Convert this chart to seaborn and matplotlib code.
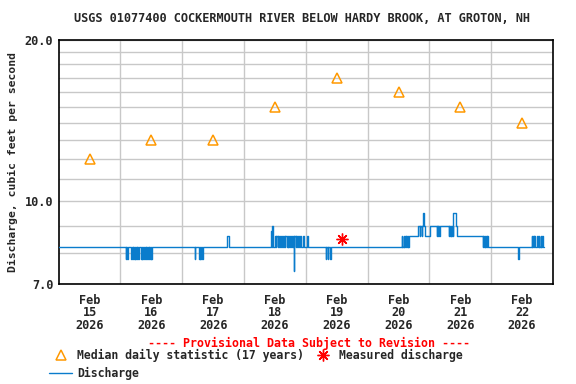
import matplotlib
matplotlib.use("Agg")
import matplotlib.pyplot as plt
import matplotlib.ticker as mticker
import seaborn as sns
import pandas as pd

# ---------------- data ----------------
title = "USGS 01077400 COCKERMOUTH RIVER BELOW HARDY BROOK, AT GROTON, NH"
day_labels = ["Feb\n15\n2026", "Feb\n16\n2026", "Feb\n17\n2026", "Feb\n18\n2026",
              "Feb\n19\n2026", "Feb\n20\n2026", "Feb\n21\n2026", "Feb\n22\n2026"]

# median daily statistic (17 years), plotted at noon of each day (hours since Feb 15 00:00)
median_hours = [12, 36, 60, 84, 108, 132, 156, 180]
median_cfs = [12, 13, 13, 15, 17, 16, 15, 14]

# measured discharge
measured_hours = [110.1]
measured_cfs = [8.5]

# discharge record as step change points (hours since Feb 15 00:00, cfs)
step_hours = [
    0.0,
    26.0, 26.25, 26.5, 26.75,
    28.25, 28.5, 28.75, 29.0, 29.25, 29.5, 29.75, 30.0, 30.25, 30.5, 30.75, 31.25,
    32.0, 32.25, 32.5, 32.75, 33.0, 33.5, 33.75, 34.0, 34.25, 34.5, 35.0, 35.25, 35.5, 35.75, 36.0, 36.25,
    52.75, 53.0, 54.5, 54.75, 55.0, 55.25, 55.5, 56.0,
    65.25, 65.5, 66.0,
    82.5, 82.75, 83.0, 83.25,
    84.0, 84.25, 84.5, 85.0, 85.25, 85.75, 86.0, 86.5, 86.75, 87.0, 87.5, 87.75, 88.0, 88.5,
    89.0, 89.25, 89.5, 90.0, 90.25, 90.75, 91.0, 91.25, 91.5, 92.0, 92.25, 92.75, 93.0, 93.5,
    93.75, 94.25, 95.0, 95.25, 96.5, 96.75,
    103.75, 104.0, 104.5, 104.75, 105.5, 105.75,
    133.25, 133.5, 134.0, 134.25, 134.5, 134.75, 135.0, 135.25, 135.5, 135.75, 136.0,
    139.75, 140.25, 140.5, 141.0, 141.25, 141.5, 141.75, 142.25,
    144.25, 146.75, 147.0, 147.25, 147.5, 147.75, 148.0,
    151.5, 151.75, 152.0, 152.25, 152.5, 152.75, 153.0, 153.25, 154.5, 154.75,
    164.75, 165.0, 165.25, 165.5, 165.75, 166.0, 166.25, 166.5, 166.75,
    178.5, 178.75,
    183.75, 184.0, 184.25, 184.5, 184.75, 185.0, 185.75, 186.0, 186.5, 186.75, 187.25, 187.5,
    187.75, 188.0, 188.5,
]
step_cfs = [
    8.2,
    7.8, 8.2, 7.8, 8.2,
    7.8, 8.2, 7.8, 8.2, 7.8, 8.2, 7.8, 8.2, 7.8, 8.2, 7.8, 8.2,
    7.8, 8.2, 7.8, 8.2, 7.8, 8.2, 7.8, 8.2, 7.8, 8.2, 7.8, 8.2, 7.8, 8.2, 7.8, 8.2,
    7.8, 8.2, 7.8, 8.2, 7.8, 8.2, 7.8, 8.2,
    8.4, 8.6, 8.2,
    8.8, 8.2, 9.0, 8.2,
    8.6, 8.2, 8.6, 8.2, 8.6, 8.2, 8.6, 8.2, 8.6, 8.2, 8.6, 8.2, 8.6, 8.2,
    8.6, 8.2, 8.6, 8.2, 8.6, 8.2, 8.6, 7.4, 8.6, 8.2, 8.6, 8.2, 8.6, 8.2,
    8.6, 8.2, 8.6, 8.2, 8.6, 8.2,
    7.8, 8.2, 7.8, 8.2, 7.8, 8.2,
    8.6, 8.2, 8.6, 8.2, 8.6, 8.2, 8.6, 8.2, 8.6, 8.2, 8.6,
    9.0, 8.6, 9.0, 8.6, 9.0, 9.5, 9.0, 8.6,
    9.0, 8.6, 9.0, 8.6, 9.0, 8.6, 9.0,
    8.6, 9.0, 8.6, 9.0, 8.6, 9.0, 8.6, 9.5, 9.0, 8.6,
    8.2, 8.6, 8.2, 8.6, 8.2, 8.6, 8.2, 8.6, 8.2,
    7.8, 8.2,
    8.6, 8.2, 8.6, 8.2, 8.6, 8.2, 8.6, 8.2, 8.6, 8.2, 8.6, 8.2,
    8.6, 8.2, 8.2,
]

y_major = [7, 10, 20]
y_major_labels = ["7.0", "10.0", "20.0"]
y_minor = [8, 9, 11, 12, 13, 14, 15, 16, 17, 18, 19]

# ---------------- figure ----------------
sns.set_style("white")
plt.rcParams["font.family"] = ["DejaVu Sans Mono"]
plt.rcParams["font.weight"] = "bold"

fig = plt.figure(figsize=(5.76, 3.84), dpi=100)
ax = fig.add_axes([58.7 / 576, 1 - 284 / 384, (553 - 58.7) / 576, (284 - 40) / 384])

flow = pd.DataFrame({"hours": step_hours, "cfs": step_cfs})
med = pd.DataFrame({"hours": median_hours, "cfs": median_cfs})
meas = pd.DataFrame({"hours": measured_hours, "cfs": measured_cfs})

sns.lineplot(data=flow, x="hours", y="cfs", ax=ax, drawstyle="steps-post",
             color="#0a7ccc", linewidth=1.0, estimator=None, sort=False,
             label="Discharge", zorder=3)
ax.plot(med["hours"], med["cfs"], linestyle="none", marker="^", markersize=7.5,
        markerfacecolor="none", markeredgecolor="#ff9900", markeredgewidth=1.1,
        label="Median daily statistic (17 years)", zorder=4)
ax.plot(meas["hours"], meas["cfs"], linestyle="none", marker=(8, 2, 0), markersize=8.5,
        color="#ff0000", markeredgewidth=1.0, label="Measured discharge", zorder=5)

ax.set_yscale("log")
ax.set_ylim(7, 20)
ax.set_xlim(0, 192)
ax.yaxis.set_major_locator(mticker.FixedLocator(y_major))
ax.yaxis.set_major_formatter(mticker.FixedFormatter(y_major_labels))
ax.yaxis.set_minor_locator(mticker.FixedLocator(y_minor))
ax.yaxis.set_minor_formatter(mticker.NullFormatter())
ax.set_xticks(median_hours)
ax.set_xticklabels(day_labels)
for lbl in ax.get_xticklabels():
    lbl.set_linespacing(0.95)
ax.set_xticks([24, 48, 72, 96, 120, 144, 168], minor=True)

ax.grid(which="minor", color="#c8c8c8", linewidth=1.0)
ax.grid(which="major", axis="y", color="#c8c8c8", linewidth=1.0)
ax.grid(which="major", axis="x", visible=False)
ax.tick_params(which="both", length=0, labelsize=8.6, pad=4)
ax.tick_params(axis="x", pad=7)
ax.set_xlabel("")
ax.set_ylabel("Discharge, cubic feet per second", fontsize=8.2, fontweight="bold", labelpad=5)
for sp in ax.spines.values():
    sp.set_color("black")
    sp.set_linewidth(1.2)

fig.text(0.5 * (74 + 530) / 576, 1 - 19 / 384, title, ha="center", va="center",
         fontsize=8.6, fontweight="bold")
fig.text(309 / 576, 1 - 343 / 384, "---- Provisional Data Subject to Revision ----",
         ha="center", va="center", fontsize=8.4, fontweight="bold", color="#ff0000")

handles, labels = ax.get_legend_handles_labels()
order = [labels.index("Median daily statistic (17 years)"), labels.index("Discharge"),
         labels.index("Measured discharge")]
if ax.legend_:
    ax.legend_.remove()
fig.legend([handles[i] for i in order], [labels[i] for i in order], ncol=2,
           loc="upper left", bbox_to_anchor=(49 / 576, 1 - 349 / 384), frameon=False,
           fontsize=8.3, handlelength=2.0, handletextpad=0.45, columnspacing=0.6,
           labelspacing=0.38, borderaxespad=0, borderpad=0)

fig.savefig("out.png", dpi=100)
